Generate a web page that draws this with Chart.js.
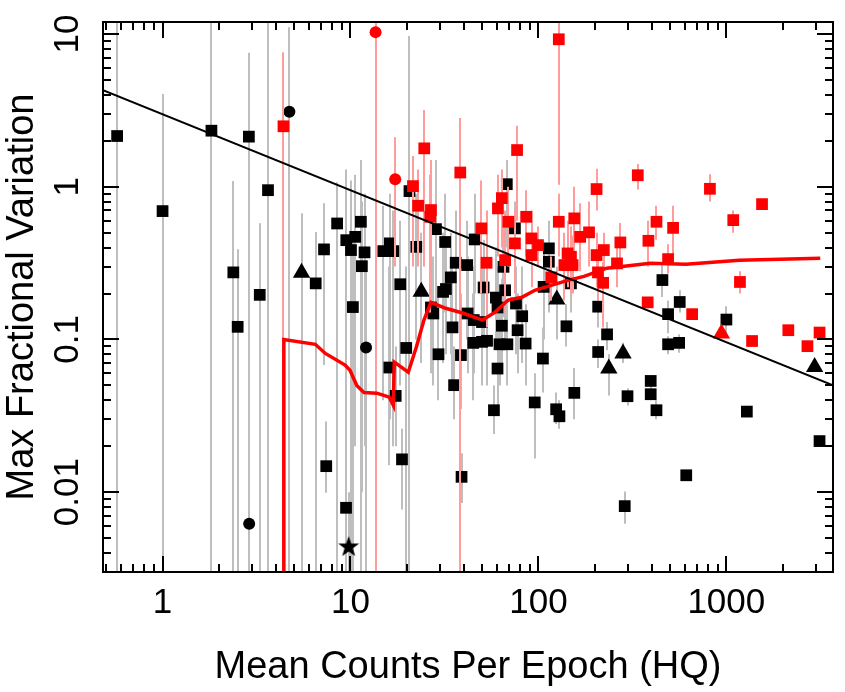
<!DOCTYPE html>
<html>
<head>
<meta charset="utf-8">
<script src="https://cdn.jsdelivr.net/npm/chart.js@4.4.1/dist/chart.umd.min.js"></script>
<style>
  html, body { margin: 0; padding: 0; background: #fff; }
  #chart { display: block; }
</style>
</head>
<body>
<canvas id="chart" width="845" height="692"></canvas>
<script>
// rows: [mean counts, max fractional variation, error low, error high]  (null = no bar)
var blackSquares = [
  [0.573, 2.15, 1e-4, 100], [1.0, 0.693, 1e-4, 4.05], [1.82, 2.33, 1e-4, 100],
  [2.88, 2.13, 1e-4, 7.55], [3.64, 0.95, 1e-4, 100], [2.38, 0.275, 1e-4, 1.09],
  [2.51, 0.121, 1e-4, 0.39], [3.29, 0.196, 1e-4, 0.578], [6.53, 0.233, 1e-4, 0.505],
  [7.23, 0.389, 0.068, 0.78], [8.49, 0.575, 1e-4, 1.07], [7.43, 0.0148, 0.0099, 0.029],
  [9.5, 0.447, 1e-4, 1.3], [10.6, 0.47, 0.02, 1.2], [10.06, 0.385, 1e-4, 1.1],
  [11.36, 0.59, 1e-4, 1.5], [11.88, 0.372, 0.02, 0.9], [11.5, 0.302, 0.01, 0.8],
  [10.3, 0.163, 1e-4, 0.45], [14.95, 0.379, 0.04, 0.75], [16.2, 0.426, 0.03, 0.9],
  [16.9, 0.379, 0.02, 0.7], [16.1, 0.0655, 0.015, 0.3], [17.4, 0.0427, 0.02, 0.09],
  [19.8, 0.088, 1e-4, 0.3], [18.4, 0.23, 0.05, 0.6], [18.8, 0.0164, 0.0077, 0.026],
  [9.47, 0.0079, 1e-4, 0.015], [20.6, 0.937, 1e-4, 9.7], [22.4, 0.404, 0.1, 0.9],
  [28.5, 0.528, 0.15, 1.5], [31.9, 0.435, 0.15, 0.9], [26.8, 0.162, 0.06, 0.4],
  [27.6, 0.148, 0.05, 0.35], [36.3, 0.318, 0.12, 0.7], [41.8, 0.307, 0.1, 0.6],
  [34.2, 0.255, 0.08, 0.5], [32.2, 0.214, 0.08, 0.45], [31.1, 0.205, 0.07, 0.5],
  [45.8, 0.452, 0.2, 0.9], [34.9, 0.12, 0.05, 0.3], [29.4, 0.08, 0.04, 0.2],
  [38.7, 0.079, 0.035, 0.2], [42.0, 0.148, 0.06, 0.35], [45.3, 0.134, 0.06, 0.3],
  [50.1, 0.13, 0.06, 0.3], [45.0, 0.095, 0.04, 0.2], [50.1, 0.0965, 0.05, 0.2],
  [53.3, 0.098, 0.05, 0.2], [51.1, 0.219, 0.1, 0.45], [59.4, 0.188, 0.09, 0.4],
  [66.5, 0.21, 0.1, 0.4], [65.2, 0.299, 0.14, 0.55], [60.6, 0.162, 0.08, 0.3],
  [63.9, 0.123, 0.06, 0.25], [62.1, 0.093, 0.05, 0.17], [68.4, 0.093, 0.05, 0.17],
  [60.6, 0.0645, 0.035, 0.12], [35.6, 0.0502, 0.03, 0.09], [58.0, 0.0344, 0.024, 0.05],
  [39.0, 0.0126, 0.0085, 0.018], [67.9, 1.04, 0.4, 1.5], [75.0, 0.534, 0.25, 0.8],
  [76.0, 0.172, 0.08, 0.3], [82.0, 0.142, 0.07, 0.3], [77.5, 0.115, 0.06, 0.2],
  [85.5, 0.094, 0.05, 0.17], [113.7, 0.395, 0.2, 0.6], [113.7, 0.323, 0.15, 0.5],
  [105.7, 0.075, 0.045, 0.12], [141, 0.122, 0.09, 0.17], [106.6, 0.221, 0.1, 0.4],
  [149, 0.233, 0.15, 0.35], [95.6, 0.0387, 0.0166, 0.06], [124.3, 0.0349, 0.028, 0.045],
  [129.4, 0.0314, 0.026, 0.04], [155.3, 0.0447, 0.03, 0.065], [457, 0.245, 0.19, 0.31],
  [208, 0.164, 0.12, 0.21], [565, 0.176, 0.15, 0.21], [490, 0.1465, 0.11, 0.18],
  [1001, 0.135, 0.11, 0.165], [232, 0.108, 0.085, 0.13], [490, 0.093, 0.08, 0.105],
  [561, 0.095, 0.082, 0.108], [208, 0.0828, 0.065, 0.1], [396, 0.0535, 0.047, 0.058],
  [396, 0.0438, 0.04, 0.05], [425, 0.0344, 0.03, 0.04], [298, 0.0425, 0.037, 0.048],
  [1286, 0.0337, null, null], [3134, 0.0216, null, null], [612, 0.0129, 0.0125, 0.0135],
  [288, 0.0081, 0.0062, 0.0101]
];
var blackTriangles = [
  [5.49, 0.273, 1e-4, 0.67], [23.8, 0.205, 0.07, 0.5], [125.3, 0.183, 0.1, 0.3],
  [282, 0.081, 0.07, 0.095], [237, 0.0646, 0.043, 0.08], [2951, 0.0661, null, null]
];
var blackCircles = [
  [4.73, 3.10, 1e-4, 11.1], [12.1, 0.0887, 1e-4, 0.3], [2.89, 0.0062, 1e-4, 0.0198]
];
var blackStars = [
  [9.78, 0.00437, 1e-4, 0.01]
];
var redSquares = [
  [4.40, 2.49, 1e-4, 7.6], [24.7, 1.785, 0.3, 3.18], [21.5, 1.01, 0.3, 1.59],
  [38.4, 1.24, 1e-4, 2.82], [77.0, 1.74, 0.6, 2.51], [128.4, 9.25, 1.03, 100],
  [63.9, 0.843, 0.4, 1.3], [60.9, 0.722, 0.35, 1.2], [204, 0.966, 0.7, 1.31],
  [338, 1.19, 0.96, 1.41], [818, 0.97, 0.8, 1.21], [1549, 0.77, null, null],
  [22.9, 0.751, 0.3, 1.3], [26.8, 0.704, 0.2, 1.5], [26.6, 0.636, 0.15, 1.2],
  [49.7, 0.534, 0.2, 1.1], [53.0, 0.318, 0.12, 0.7], [66.5, 0.331, 0.15, 0.7],
  [69.2, 0.59, 0.3, 1.0], [86.1, 0.636, 0.35, 0.95], [75.0, 0.426, 0.2, 0.7],
  [91.9, 0.459, 0.28, 0.7], [99.5, 0.415, 0.3, 0.55], [91.9, 0.357, 0.22, 0.5],
  [128.4, 0.59, 0.35, 0.9], [155.2, 0.621, 0.3, 1.0], [166.8, 0.47, 0.28, 0.78],
  [143, 0.366, 0.22, 0.6], [149, 0.348, 0.2, 0.55], [137.5, 0.307, 0.18, 0.5],
  [152, 0.307, 0.2, 0.48], [117, 0.255, 0.18, 0.35], [186, 0.503, 0.3, 0.8],
  [204, 0.357, 0.22, 0.5], [223, 0.385, 0.28, 0.5], [273, 0.432, 0.32, 0.58],
  [262, 0.315, 0.22, 0.45], [207.5, 0.275, 0.18, 0.4], [221, 0.235, 0.12, 0.32],
  [425, 0.59, 0.45, 0.75], [385, 0.443, 0.3, 0.6], [521, 0.538, 0.35, 0.75],
  [490, 0.336, 0.27, 0.42], [1089, 0.605, 0.5, 0.7], [1182, 0.238, 0.2, 0.28],
  [381.5, 0.175, 0.16, 0.19], [658, 0.1465, null, null], [1371, 0.0977, null, null],
  [2138, 0.115, null, null], [3135, 0.111, null, null], [2702, 0.0904, null, null]
];
var redTriangles = [
  [942, 0.1095, null, null]
];
var redCircles = [
  [13.6, 10.3, 1e-4, 100], [17.3, 1.12, 0.3, 2.11]
];
// running threshold curve (red)
var runX = [4.42, 4.42, 6.5, 7.35, 9.36, 9.94, 10.8, 11.8, 13.8, 16.1, 16.9, 17.1, 20.3, 22.4, 24.6,
  26.8, 32.1, 39.5, 50.4, 58.9, 69, 81.7, 95.7, 117, 143, 175, 231, 394, 610, 1172, 3162];
var runY = [0.001, 0.1, 0.093, 0.081, 0.068, 0.0628, 0.05, 0.045, 0.0445, 0.0419, 0.0371, 0.071, 0.061,
  0.089, 0.134, 0.175, 0.16, 0.149, 0.134, 0.151, 0.181, 0.189, 0.21, 0.226, 0.244, 0.259, 0.293,
  0.316, 0.311, 0.33, 0.34];
// straight black line
var fitX = [0.482, 3696];
var fitY = [4.3, 0.05];
var xTickLabels = [1, 10, 100, 1000];
var yTickLabels = [0.01, 0.1, 1, 10];

var FONT = '"Liberation Sans", Arial, Helvetica, sans-serif';

function pts(rows) {
  return rows.map(function (r) { return { x: r[0], y: r[1] }; });
}
function starImage(r) {
  var c = document.createElement('canvas');
  c.width = c.height = 2 * r + 2;
  var g = c.getContext('2d');
  g.fillStyle = '#000';
  g.beginPath();
  for (var i = 0; i < 10; i++) {
    var rad = i % 2 ? r * 0.4 : r;
    var ang = -Math.PI / 2 + i * Math.PI / 5;
    g.lineTo(r + 1 + rad * Math.cos(ang), r + 1 + rad * Math.sin(ang));
  }
  g.closePath();
  g.fill();
  return c;
}

function drawBars(chart, rows, color) {
  var ctx = chart.ctx, a = chart.chartArea, xs = chart.scales.x, ys = chart.scales.y;
  ctx.save();
  ctx.beginPath();
  ctx.rect(a.left, a.top, a.right - a.left, a.bottom - a.top);
  ctx.clip();
  ctx.strokeStyle = color;
  ctx.lineWidth = 2;
  rows.forEach(function (r) {
    if (r[2] == null) return;
    var px = Math.round(xs.getPixelForValue(r[0]));
    ctx.beginPath();
    ctx.moveTo(px, Math.min(ys.getPixelForValue(r[2]), a.bottom + 5));
    ctx.lineTo(px, Math.max(ys.getPixelForValue(r[3]), a.top - 5));
    ctx.stroke();
  });
  ctx.restore();
}

// error bars: grey ones under the black points, pink ones under the red points
var errorBars = {
  id: 'errorBars',
  beforeDatasetDraw: function (chart, args) {
    if (args.index === 8) {
      drawBars(chart, blackSquares.concat(blackTriangles, blackCircles, blackStars), '#bebebe');
    }
    if (args.index === 4) {
      drawBars(chart, redSquares.concat(redTriangles, redCircles), '#ff9c9c');
    }
  }
};

// box, inward ticks and tick labels
var frame = {
  id: 'frame',
  afterDraw: function (chart) {
    var ctx = chart.ctx, a = chart.chartArea, xs = chart.scales.x, ys = chart.scales.y;
    ctx.save();
    ctx.strokeStyle = '#000';
    ctx.lineWidth = 2;
    ctx.strokeRect(a.left, a.top, a.right - a.left, a.bottom - a.top);
    ctx.beginPath();
    for (var d = -3; d <= 3; d++) {
      for (var m = 1; m <= 9; m++) {
        var v = m * Math.pow(10, d);
        var len = m === 1 ? 16 : 8;
        if (v >= xs.min && v <= xs.max) {
          var px = Math.round(xs.getPixelForValue(v));
          ctx.moveTo(px, a.bottom); ctx.lineTo(px, a.bottom - len);
          ctx.moveTo(px, a.top); ctx.lineTo(px, a.top + len);
        }
        if (v >= ys.min && v <= ys.max) {
          var py = Math.round(ys.getPixelForValue(v));
          ctx.moveTo(a.left, py); ctx.lineTo(a.left + len, py);
          ctx.moveTo(a.right, py); ctx.lineTo(a.right - len, py);
        }
      }
    }
    ctx.stroke();

    ctx.fillStyle = '#000';
    ctx.font = '35px ' + FONT;
    ctx.textAlign = 'center';
    ctx.textBaseline = 'alphabetic';
    xTickLabels.forEach(function (v) {
      ctx.fillText(String(v), xs.getPixelForValue(v), a.bottom + 41);
    });
    yTickLabels.forEach(function (v) {
      ctx.save();
      ctx.translate(a.left - 25, ys.getPixelForValue(v));
      ctx.rotate(-Math.PI / 2);
      ctx.fillText(String(v), 0, 0);
      ctx.restore();
    });
    ctx.restore();
  }
};

new Chart(document.getElementById('chart').getContext('2d'), {
  type: 'scatter',
  data: {
    datasets: [
      { type: 'line', data: fitX.map(function (x, i) { return { x: x, y: fitY[i] }; }),
        borderColor: '#000', borderWidth: 2, pointRadius: 0, fill: false },
      { type: 'line', data: runX.map(function (x, i) { return { x: x, y: runY[i] }; }),
        borderColor: '#ff0000', borderWidth: 3.5, pointRadius: 0, fill: false, tension: 0 },
      { data: pts(redCircles), pointStyle: 'circle', pointRadius: 6, backgroundColor: '#ff0000', borderWidth: 0 },
      { data: pts(redTriangles), pointStyle: 'triangle', pointRadius: 10, backgroundColor: '#ff0000', borderWidth: 0 },
      { data: pts(redSquares), pointStyle: 'rect', pointRadius: 8.3, backgroundColor: '#ff0000', borderWidth: 0 },
      { data: pts(blackStars), pointStyle: starImage(11), pointRadius: 11 },
      { data: pts(blackCircles), pointStyle: 'circle', pointRadius: 6, backgroundColor: '#000', borderWidth: 0 },
      { data: pts(blackTriangles), pointStyle: 'triangle', pointRadius: 10, backgroundColor: '#000', borderWidth: 0 },
      { data: pts(blackSquares), pointStyle: 'rect', pointRadius: 8.3, backgroundColor: '#000', borderWidth: 0 }
    ]
  },
  options: {
    responsive: false,
    animation: false,
    devicePixelRatio: 1,
    layout: { padding: { top: 22, right: 3, left: 0, bottom: 0 } },
    plugins: { legend: { display: false }, tooltip: { enabled: false } },
    scales: {
      x: {
        type: 'logarithmic', min: 0.482, max: 3696,
        grid: { display: false }, border: { display: false }, ticks: { display: false },
        title: { display: true, text: 'Mean Counts Per Epoch (HQ)', color: '#000',
          font: { size: 38, family: FONT }, padding: { top: 0, bottom: 2 } },
        afterFit: function (s) { s.height = 120; }
      },
      y: {
        type: 'logarithmic', min: 0.003, max: 12,
        grid: { display: false }, border: { display: false }, ticks: { display: false },
        title: { display: true, text: 'Max Fractional Variation', color: '#000',
          font: { size: 38, family: FONT }, padding: { top: 0, bottom: 0 } },
        afterFit: function (s) { s.width = 103; }
      }
    }
  },
  plugins: [errorBars, frame]
});
</script>
</body>
</html>
